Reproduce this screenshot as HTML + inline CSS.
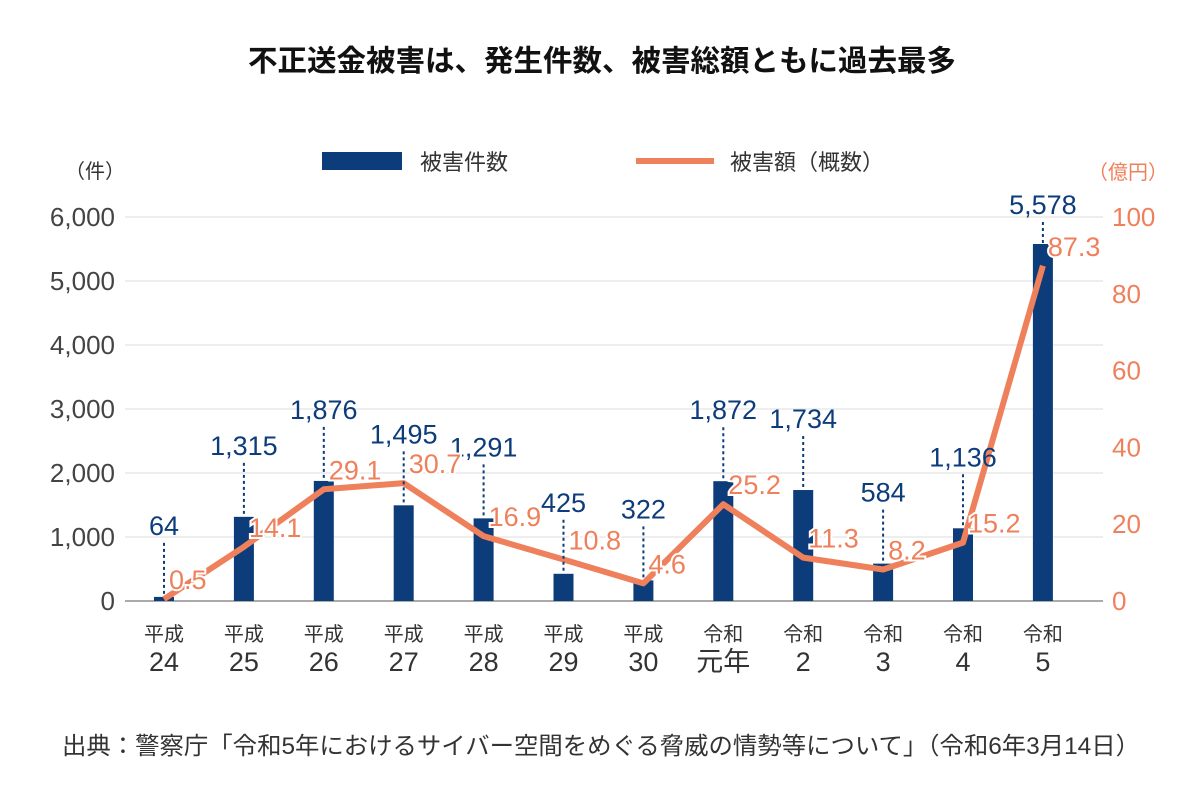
<!DOCTYPE html>
<html><head><meta charset="utf-8"><style>
body{margin:0;background:#fff;}
svg{font-family:"Liberation Sans","Noto Sans CJK JP",sans-serif;}
</style></head><body>
<svg width="1200" height="800" viewBox="0 0 1200 800" id="c">
<text x="602" y="71" text-anchor="middle" font-size="29.5" font-weight="bold" fill="#111">不正送金被害は、発生件数、被害総額ともに過去最多</text>
<g>
<rect x="322" y="152" width="80" height="18" fill="#0d3c7a"/>
<text x="420" y="170" font-size="22" fill="#333">被害件数</text>
<line x1="636" y1="161" x2="714" y2="161" stroke="#ef805c" stroke-width="6"/>
<text x="730" y="170" font-size="22" fill="#333">被害額（概数）</text>
</g>
<text x="95" y="178" text-anchor="middle" font-size="20" fill="#333">（件）</text>
<text x="1128" y="179" text-anchor="middle" font-size="20" fill="#ef805c">（億円）</text>
<g id="grid"></g><g id="bars"></g><g id="line"></g><g id="labels"></g>
<text x="62" y="754" font-size="24" fill="#333" textLength="1078" lengthAdjust="spacingAndGlyphs">出典：警察庁「令和5年におけるサイバー空間をめぐる脅威の情勢等について」（令和6年3月14日）</text>
</svg>
<script>
const eraLabels=["平成","平成","平成","平成","平成","平成","平成","令和","令和","令和","令和","令和"];
const yearLabels=["24","25","26","27","28","29","30","元年","2","3","4","5"];
const counts=[64,1315,1876,1495,1291,425,322,1872,1734,584,1136,5578];
const amounts=[0.5,14.1,29.1,30.7,16.9,10.8,4.6,25.2,11.3,8.2,15.2,87.3];
const leftTicks=[0,1000,2000,3000,4000,5000,6000];
const rightTicks=[0,20,40,60,80,100];
const NS="http://www.w3.org/2000/svg";
const x0=164,dx=79.9,base=601,plotTop=217;
const xS=i=>x0+i*dx;
const yL=v=>base-(v/6000)*(base-plotTop);
const yR=v=>base-(v/100)*(base-plotTop);
function mk(t,a,p){const e=document.createElementNS(NS,t);for(const k in a)e.setAttribute(k,a[k]);document.getElementById(p).appendChild(e);return e;}
leftTicks.forEach(v=>{
 const l=mk('line',{x1:125,x2:1103,y1:yL(v),y2:yL(v),stroke:v===0?'#aaa':'#e8e8e8','stroke-width':v===0?2:1.5},'grid');
 
 
 const t=mk('text',{x:115,y:yL(v)+9,'text-anchor':'end','font-size':26,fill:'#444'},'grid');t.textContent=v.toLocaleString('en-US');
 
 
});
rightTicks.forEach(v=>{
 const t=mk('text',{x:1112,y:yR(v)+9,'font-size':26,fill:'#ef805c'},'grid');t.textContent=v;
 
 
});
counts.forEach((v,i)=>{
 const x=xS(i);
 const r=mk('rect',{x:x-10,y:yL(v),width:20,height:base-yL(v),fill:'#0d3c7a'},'bars');
 
 
 const ly=yL(v)-(v>5000?30:62);
 const d=mk('line',{x1:x,x2:x,y1:ly+8,y2:yL(v),stroke:'#0d3c7a','stroke-width':2,'stroke-dasharray':'3,3'},'labels');
 
 
 const t=mk('text',{x:x,y:ly,'text-anchor':'middle','font-size':27,fill:'#0d3c7a'},'labels');t.textContent=v.toLocaleString('en-US');
 
 
 const e=mk('text',{x:x,y:641,'text-anchor':'middle','font-size':20,fill:'#333'},'labels');e.textContent=eraLabels[i];
 
 
 const n=mk('text',{x:x,y:671,'text-anchor':'middle','font-size':yearLabels[i].length>2?20:27,fill:'#333'},'labels');n.textContent=yearLabels[i];
 
 
});
const pts=amounts.map((v,i)=>xS(i)+','+yR(v)).join(' ');
const pl=mk('polyline',{points:pts,fill:'none',stroke:'#ef805c','stroke-width':6,'stroke-linejoin':'round'},'line');


amounts.forEach((v,i)=>{
 const t=mk('text',{x:xS(i)+5,y:yR(v)-10,'font-size':27,fill:'#ef805c',stroke:'#fff','stroke-width':4,'paint-order':'stroke'},'labels');t.textContent=v.toFixed(1);
 
 
});
</script>
</body></html>
